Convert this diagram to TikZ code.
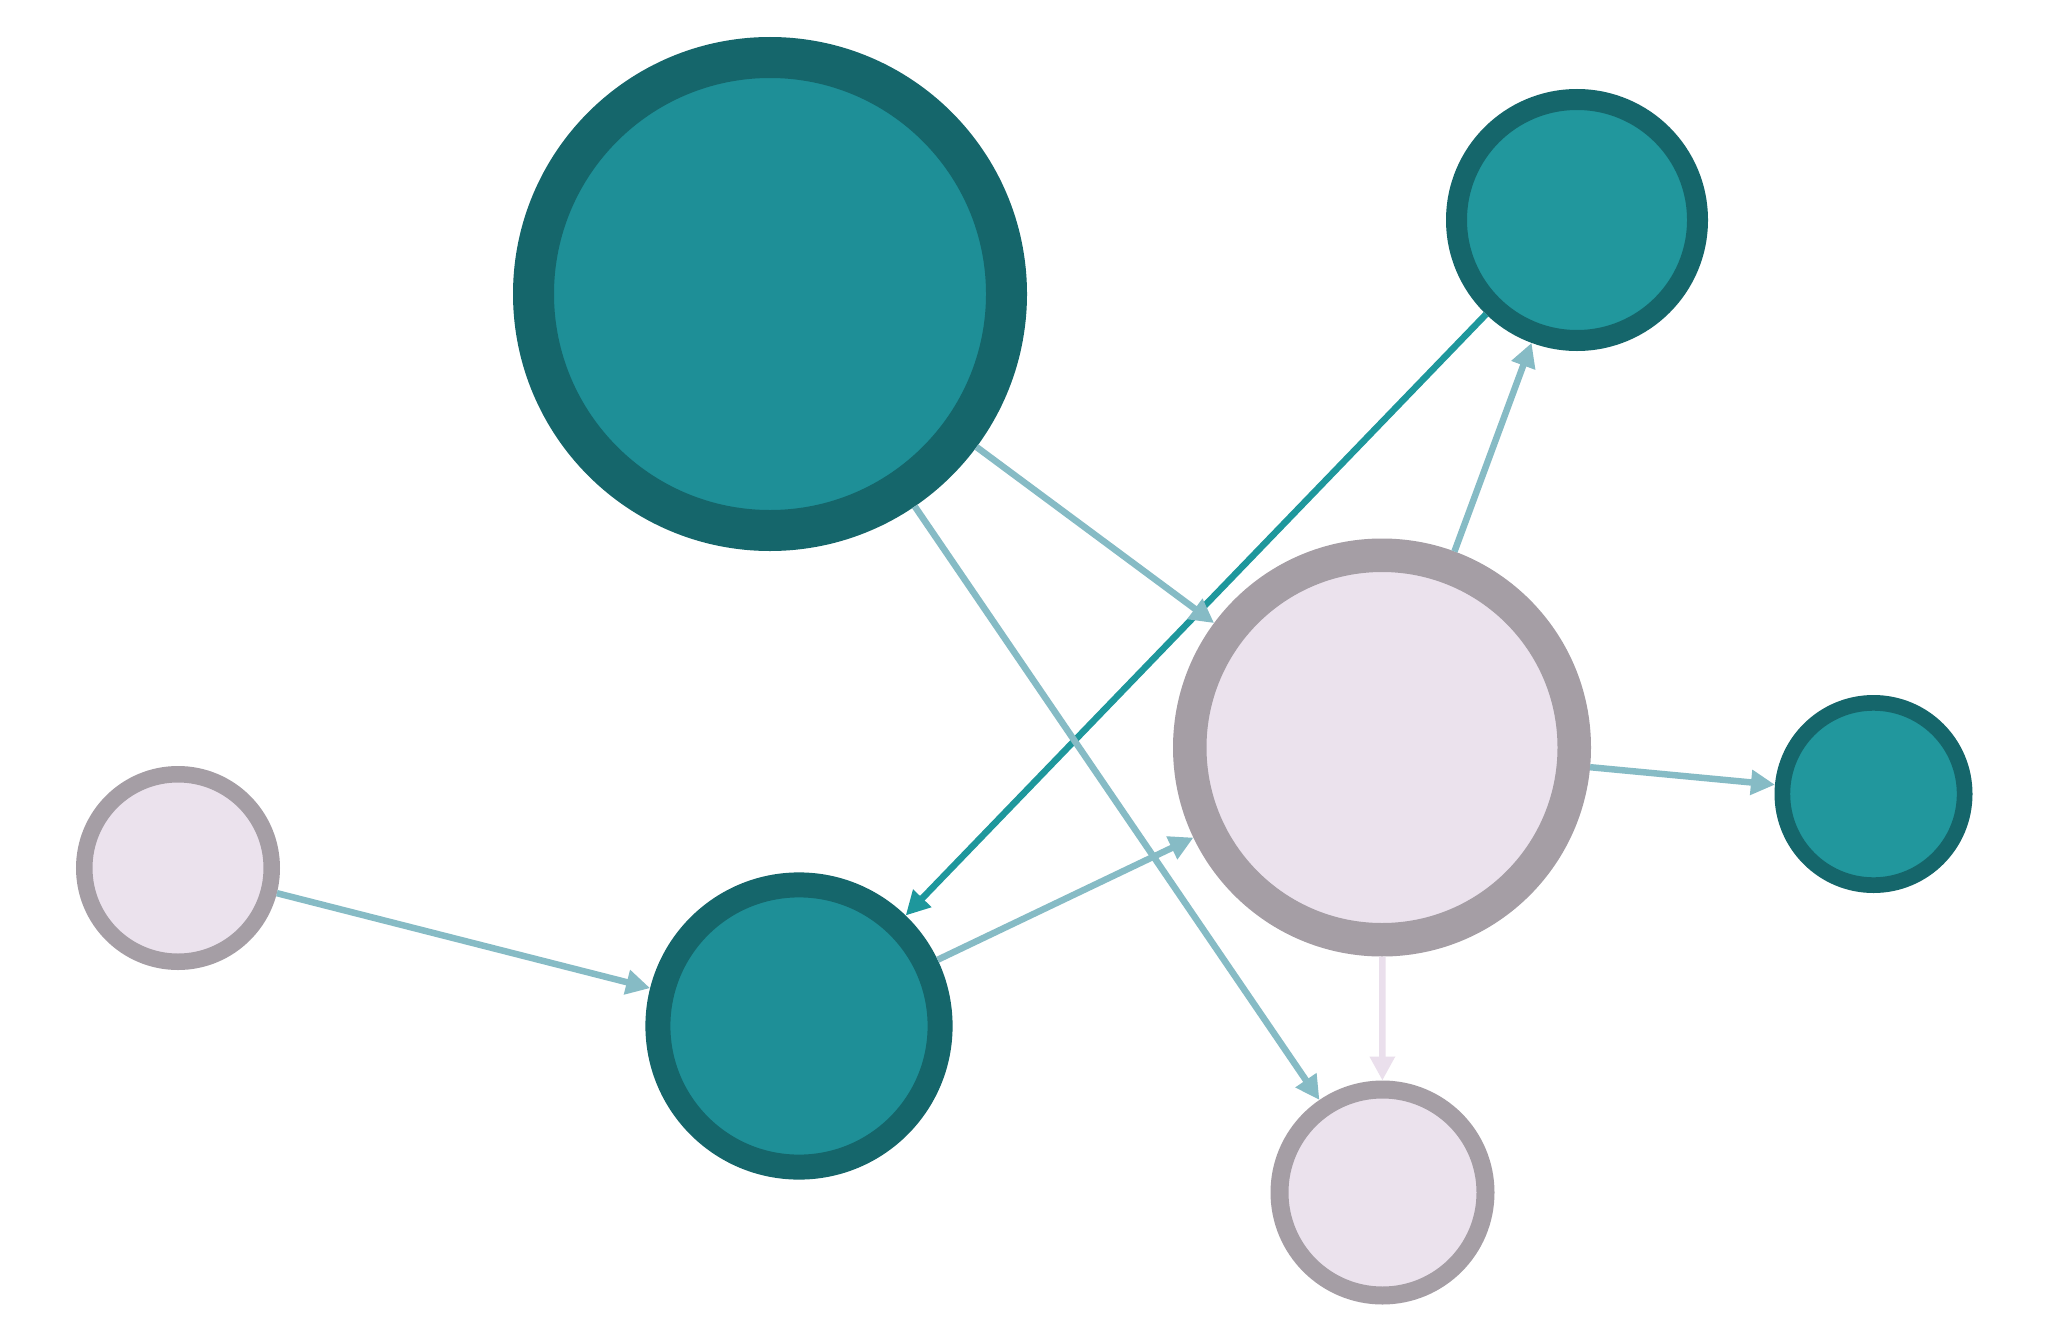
\documentclass[tikz,border=0pt]{standalone}
\usetikzlibrary{arrows.meta}
\definecolor{tealfill}{HTML}{1E8F97}
\definecolor{tealfillb}{HTML}{21979D}
\definecolor{tealline}{HTML}{15666B}
\definecolor{pinkfill}{HTML}{EBE2ED}
\definecolor{pinkline}{HTML}{A59EA5}
\definecolor{edgelight}{HTML}{86BBC5}
\definecolor{edgeteal}{HTML}{1E979C}
\definecolor{edgepink}{HTML}{EADFEC}
\tikzset{
  tealnode/.style={circle, inner sep=0pt, fill=tealfill, draw=tealline},
  tealnodeb/.style={circle, inner sep=0pt, fill=tealfillb, draw=tealline},
  pinknode/.style={circle, inner sep=0pt, fill=pinkfill, draw=pinkline},
  edgebase/.style={line width=6.5pt, -{Triangle[length=24pt,width=24pt]}},
  edgeL/.style={edgebase, draw=edgelight, fill=edgelight},
  edgeT/.style={edgebase, draw=edgeteal, fill=edgeteal},
  edgeP/.style={edgebase, draw=edgepink, fill=edgepink},
}
\begin{document}
\begin{tikzpicture}[x=1pt,y=-1pt]
\useasboundingbox[fill=white] (0,0) rectangle (2048,1338);
\node[tealnode, line width=41pt, minimum size=473pt] (A) at (770,294) {};
\node[tealnodeb, line width=21pt, minimum size=241pt] (B) at (1577,220) {};
\node[pinknode, line width=33.5pt, minimum size=384.5pt] (C) at (1382,747.5) {};
\node[tealnodeb, line width=15.7pt, minimum size=182.3pt] (D) at (1873.5,794) {};
\node[pinknode, line width=16.5pt, minimum size=187.5pt] (E) at (178,868) {};
\node[tealnode, line width=25pt, minimum size=282.2pt] (F) at (799,1026) {};
\node[pinknode, line width=18pt, minimum size=206pt] (G) at (1382.5,1192.5) {};
\draw[edgeT] (B) -- (F);
\draw[edgeL] (A) -- (C);
\draw[edgeL] (A) -- (G);
\draw[edgeL] (C) -- (B);
\draw[edgeL] (C) -- (D);
\draw[edgeP] (C) -- (G);
\draw[edgeL] (E) -- (F);
\draw[edgeL] (F) -- (C);
\end{tikzpicture}
\end{document}
